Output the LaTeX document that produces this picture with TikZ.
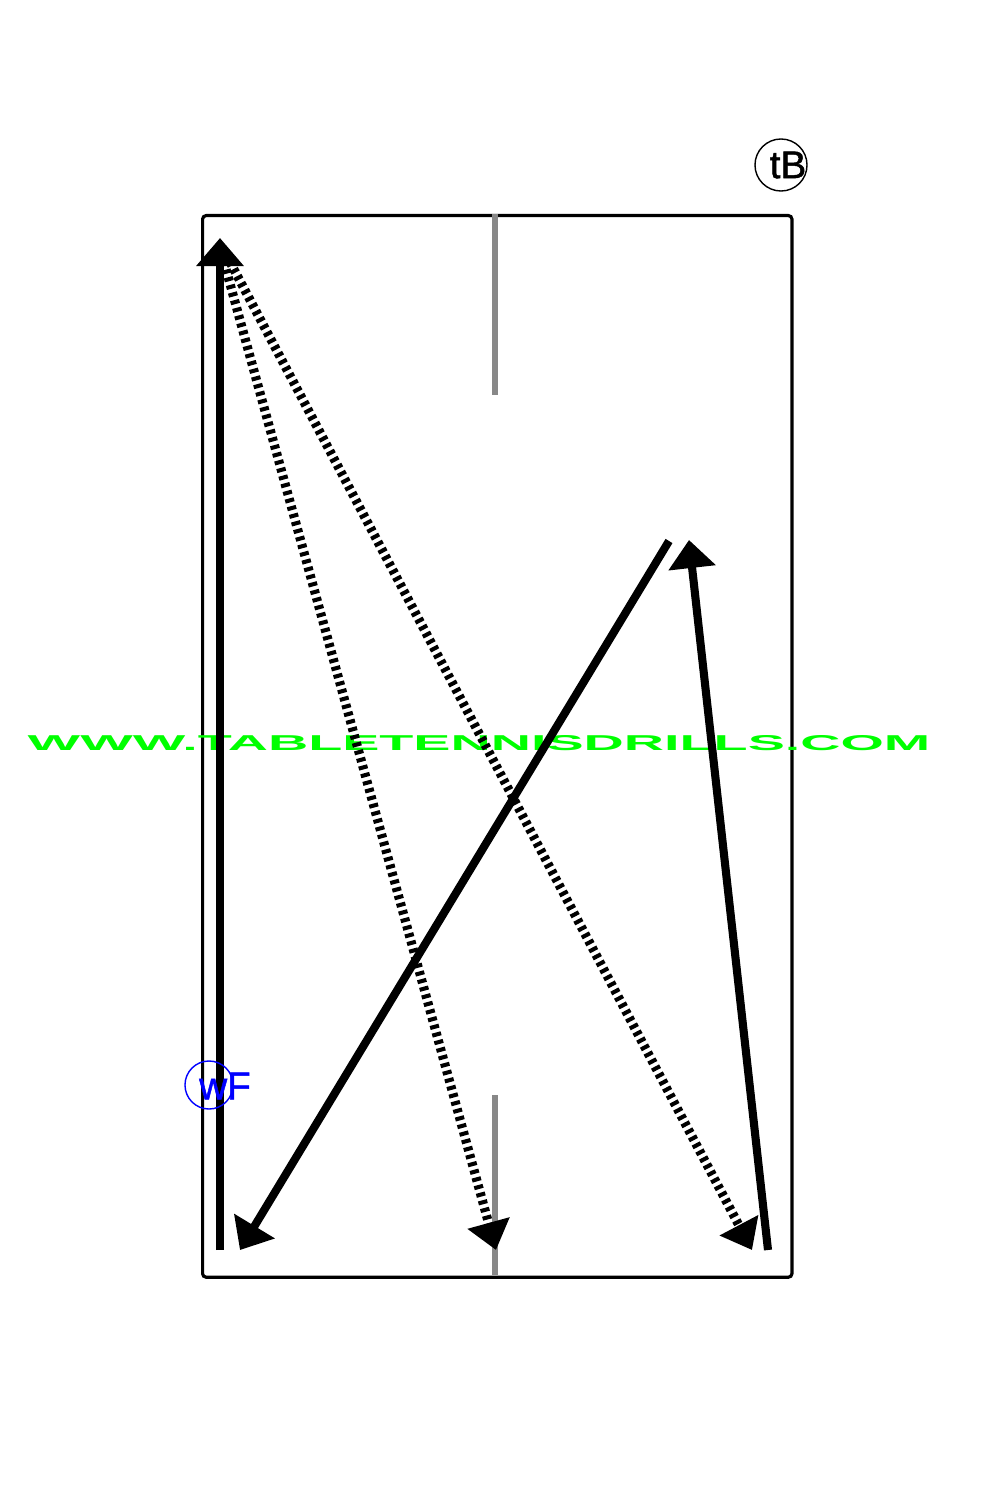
\documentclass[tikz,border=0pt]{standalone}
\usepackage{fontspec}
\setmainfont{Liberation Sans}
\newfontfamily\plabelfont[FakeBold=1.2]{Liberation Sans}
\usetikzlibrary{arrows.meta}
\definecolor{wmgreen}{RGB}{0,255,0}
\definecolor{netgray}{RGB}{136,136,136}
\tikzset{
  px/.style={x=0.01cm,y=-0.01cm},
  tablebox/.style={draw=black,line width=0.9pt,rounded corners=1pt},
  netline/.style={draw=netgray,line width=1.7pt},
  shot/.style={draw=black,line width=2.3pt,-{Triangle[length=0.28cm,width=0.46cm]}},
  dshot/.style={draw=black,line width=2.6pt,dash pattern=on 1.15pt off 1.1pt,
     -{Triangle[length=0.28cm,width=0.42cm]}},
  player/.style={circle,draw,inner sep=0pt,line width=0.4pt},
  plabel/.style={inner sep=0pt,font=\plabelfont\fontsize{11}{11}\selectfont},
}
\begin{document}
\begin{tikzpicture}[px]
\useasboundingbox (0,0) rectangle (1000,1500);
% table
\node[tablebox,minimum width=5.89cm,minimum height=10.61cm,anchor=north west] (table) at (201,214) {};
% net marks
\coordinate (ntA) at (495,214);
\coordinate (ntB) at (495,395);
\coordinate (nbA) at (495,1095);
\coordinate (nbB) at (495,1275);
\draw[netline] (ntA) -- (ntB);
\draw[netline] (nbA) -- (nbB);
% watermark
\node[text=wmgreen,inner sep=0pt] (wm) at (479,743)
  {\resizebox{9.02cm}{0.15cm}{\textbf{WWW.TABLETENNISDRILLS.COM}}};
% shot coordinates
\coordinate (a1) at (220,1250);
\coordinate (a2) at (220,238);
\coordinate (d1s) at (224,262);
\coordinate (d1e) at (496,1250);
\coordinate (d2s) at (230,262);
\coordinate (d2e) at (752,1250);
\coordinate (s3s) at (669,541);
\coordinate (s3e) at (240,1250);
\coordinate (s4s) at (768,1250);
\coordinate (s4e) at (689,540);
% shots
\draw[shot] (a1) -- (a2);
\draw[dshot] (d1s) -- (d1e);
\draw[dshot] (d2s) -- (d2e);
\draw[shot] (s3s) -- (s3e);
\draw[shot] (s4s) -- (s4e);
% players
\node[player,draw=black,minimum size=0.52cm] (tB) at (781,165) {};
\node[plabel] (tBt) at (788,165) {tB};
\node[player,draw=blue,minimum size=0.48cm] (wF) at (209,1085) {};
\node[plabel,text=blue] (wFt) at (225,1086) {wF};
\end{tikzpicture}
\end{document}
